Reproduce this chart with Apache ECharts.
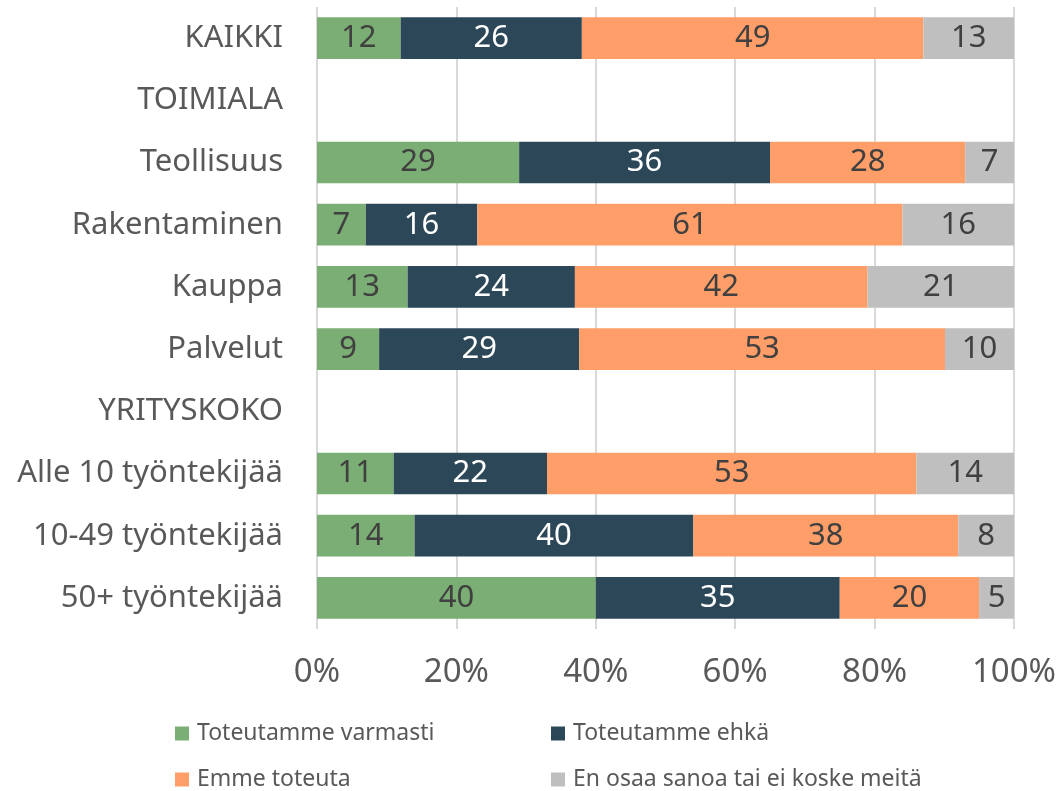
<!DOCTYPE html>
<html style="height: 100%">
<head>
    <meta charset="utf-8">
    <title>ECharts</title>
    <script src="https://cdn.jsdelivr.net/npm/echarts@6/dist/echarts.min.js"></script>
</head>
<body style="height: 100%; margin: 0; background: #fff">
<div id="main" style="width: 1063px; height: 791px"></div>

<script type="text/javascript">
    // rivit ylhäältä alas, otsikkorivit ilman dataa
    var categories = ['KAIKKI', 'TOIMIALA', 'Teollisuus', 'Rakentaminen', 'Kauppa', 'Palvelut',
        'YRITYSKOKO', 'Alle 10 työntekijää', '10-49 työntekijää', '50+ työntekijää'];
    var seriesNames = ['Toteutamme varmasti', 'Toteutamme ehkä', 'Emme toteuta', 'En osaa sanoa tai ei koske meitä'];
    var varmasti = [12, null, 29, 7, 13, 9, null, 11, 14, 40];
    var ehka = [26, null, 36, 16, 24, 29, null, 22, 40, 35];
    var emme = [49, null, 28, 61, 42, 53, null, 53, 38, 20];
    var eos = [13, null, 7, 16, 21, 10, null, 14, 8, 5];
    var colors = ['#7BAE74', '#2C4858', '#FF9E68', '#BFBFBF'];
    var labelColors = ['#404040', '#ffffff', '#404040', '#404040'];

    var raw = [varmasti, ehka, emme, eos];
    var font = 'Noto Sans';

    // 100 % pinottu: skaalataan rivisummaan
    var sums = categories.map(function (c, i) {
        var s = 0;
        raw.forEach(function (arr) { s += arr[i] || 0; });
        return s;
    });

    var series = raw.map(function (arr, k) {
        return {
            name: seriesNames[k],
            type: 'bar',
            stack: 'total',
            barWidth: '67%',
            itemStyle: {color: colors[k]},
            label: {
                show: true,
                position: 'inside',
                color: labelColors[k],
                fontFamily: font,
                fontSize: 31,
                formatter: function (p) { return arr[p.dataIndex]; }
            },
            data: arr.map(function (v, i) {
                return v == null ? null : v / sums[i] * 100;
            })
        };
    });

    // selite kahteen sarakkeeseen
    var legendPos = [[175, 722], [551, 722], [175, 768], [551, 768]];
    var legends = seriesNames.map(function (name, k) {
        return {
            data: [name],
            left: legendPos[k][0],
            top: legendPos[k][1],
            itemWidth: 14,
            itemHeight: 14,
            itemGap: 0,
            padding: 0,
            icon: 'rect',
            textStyle: {color: '#595959', fontFamily: font, fontSize: 23, padding: [0, 0, 0, 3]}
        };
    });

    var myChart = echarts.init(document.getElementById('main'));
    var option = {
        animation: false,
        grid: {left: 317, right: 49, top: 7, bottom: 162},
        legend: legends,
        xAxis: {
            type: 'value',
            min: 0,
            max: 100,
            interval: 20,
            axisLabel: {
                formatter: '{value}%',
                color: '#595959',
                fontFamily: font,
                fontSize: 33,
                margin: 27
            },
            splitLine: {lineStyle: {color: '#D9D9D9', width: 2}},
            axisLine: {show: false},
            axisTick: {show: false}
        },
        yAxis: {
            type: 'category',
            inverse: true,
            data: categories,
            axisLine: {show: false},
            axisTick: {show: false},
            axisLabel: {
                color: '#595959',
                fontFamily: font,
                fontSize: 31,
                margin: 34
            }
        },
        series: series
    };
    myChart.setOption(option, true);
</script>
</body>
</html>
